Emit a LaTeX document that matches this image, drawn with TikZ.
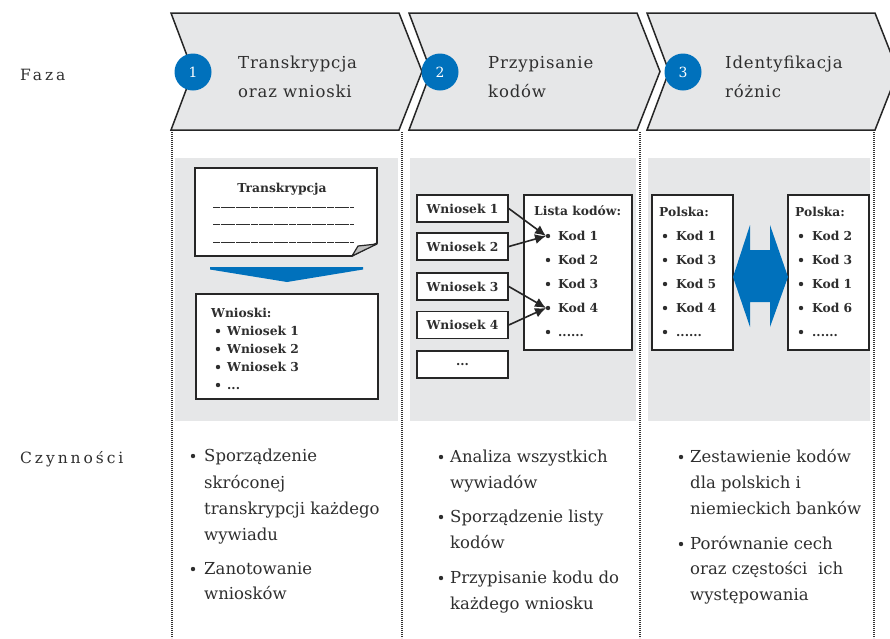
\documentclass[tikz,border=0pt]{standalone}
\usepackage{fontspec}
\setmainfont{DejaVu Serif}
\newfontfamily\hdfont[LetterSpace=5]{DejaVu Serif}
\newfontfamily\lblfont[LetterSpace=19]{DejaVu Serif}
\usetikzlibrary{arrows.meta}
\definecolor{pgrey}{HTML}{E6E7E8}
\definecolor{pblue}{HTML}{0071BC}
\definecolor{ptext}{HTML}{2E2E2E}
\newcommand\tdots{...}
\newcommand\sdots{......}
\tikzset{
 chev/.style={fill=pgrey, draw=black!85, line width=1.5pt, line join=miter},
 num/.style={circle, fill=pblue, minimum size=37pt, inner sep=0pt, text=white, font=\fontsize{14}{14}\selectfont},
 htext/.style={anchor=base west, inner sep=0pt, text=ptext, font=\hdfont\fontsize{16.5}{16.5}\selectfont},
 lbl/.style={anchor=base west, inner sep=0pt, text=ptext, font=\lblfont\fontsize{15.5}{15.5}\selectfont},
 box/.style={draw=black!85, fill=white, line width=1.6pt, inner sep=0pt},
 btext/.style={anchor=base west, inner sep=0pt, text=ptext, font=\bfseries\fontsize{12.3}{12.3}\selectfont},
 ltext/.style={anchor=base west, inner sep=0pt, text=ptext, font=\fontsize{16.5}{16.5}\selectfont},
 dotline/.style={line width=1.1pt, dash pattern=on 0.9pt off 1.1pt, draw=black!80},
 arr/.style={line width=1.6pt, draw=black!85, -{Latex[length=11pt,width=10pt]}},
 bul/.style={fill=ptext},
}
\begin{document}
\begin{tikzpicture}[x=1pt,y=-1pt]
\useasboundingbox (0,0) rectangle (890,638);
\clip (0,0) rectangle (890,638);
% grey panels
\fill[pgrey] (175,158) rectangle (398,421);
\fill[pgrey] (410,158) rectangle (636,421);
\fill[pgrey] (648,158) rectangle (870,421);
% dotted separators
\foreach \x in {172,402,640,874} \draw[dotline] (\x,132) -- (\x,638);
% chevrons
\foreach \x in {171,409,647}
  \draw[chev] (\x,13) -- (\x+228,13) -- (\x+251,71.5) -- (\x+228,130) -- (\x,130) -- (\x+22,71.5) -- cycle;
\node[num] (n1) at (193,72) {1};
\node[num] (n2) at (440,72) {2};
\node[num] (n3) at (683,72) {3};
\node[htext] (h1a) at (238,68) {Transkrypcja};
\node[htext] (h1b) at (238,97) {oraz wnioski};
\node[htext] (h2a) at (488,68) {Przypisanie};
\node[htext] (h2b) at (488,97) {kodów};
\node[htext] (h3a) at (725,68) {Identyfikacja};
\node[htext] (h3b) at (725,97) {różnic};
% row labels
\node[lbl] (faza) at (20,80) {Faza};
\node[lbl] (czyn) at (20,463) {Czynności};
% ---- panel 1
\draw[box] (195,168) -- (377,168) -- (377,243) -- (352,256) -- (195,256) -- cycle;
\draw[line width=1.2pt, draw=black!85, fill=black!25, line join=round] (352,256) -- (377,244) -- (358,246) -- cycle;
\node[btext, anchor=base] (tr) at (282,192) {Transkrypcja};
\foreach \y in {207,224,242} \draw[line width=0.8pt, draw=ptext, dash pattern=on 7pt off 0.6pt] (213,\y) -- (354,\y);
\fill[pblue] (210,267) -- (363,267) -- (363,269.5) -- (287,282) -- (210,269.5) -- cycle;
\node[box, minimum width=182pt, minimum height=105pt] (wb) at (287,346.5) {};
\node[btext] (wt) at (211,317) {Wnioski:};
\foreach \y/\t [count=\i] in {335/Wniosek 1,353/Wniosek 2,371/Wniosek 3,389/\tdots} {
  \fill[bul] (218,\y-4) circle (2.2pt);
  \node[btext] (wi\i) at (227,\y) {\t};
}
% ---- panel 2
\foreach \y/\t [count=\i] in {208.5/Wniosek 1,246.5/Wniosek 2,286.5/Wniosek 3,325/Wniosek 4,364.5/\tdots}
  \node[box, minimum width=91pt, minimum height=27pt, text=ptext, font=\bfseries\fontsize{12.3}{12.3}\selectfont] (w\i) at (462.5,\y) {\t};
\node[box, minimum width=108pt, minimum height=155pt] (lk) at (578,272.5) {};
\node[btext] (lkt) at (534,215) {Lista kodów:};
\foreach \y/\t [count=\i] in {240/Kod 1,264/Kod 2,288/Kod 3,312/Kod 4,336/\sdots} {
  \fill[bul] (548,\y-4) circle (2.2pt);
  \coordinate (kb\i) at (546,\y-4);
  \node[btext] (k\i) at (558,\y) {\t};
}
\draw[arr] (w1.east) -- (kb1);
\draw[arr] (w2.east) -- (kb1);
\draw[arr] (w3.east) -- (kb4);
\draw[arr] (w4.east) -- (kb4);
% ---- panel 3
\node[box, minimum width=81pt, minimum height=155pt] (pl) at (692.5,272.5) {};
\node[box, minimum width=81pt, minimum height=155pt] (pr) at (828.5,272.5) {};
\node[btext] (plt) at (659,216) {Polska:};
\node[btext] (prt) at (795,216) {Polska:};
\foreach \y/\t [count=\i] in {240/Kod 1,264/Kod 3,288/Kod 5,312/Kod 4,336/\sdots} {
  \fill[bul] (665,\y-4) circle (2.2pt);
  \node[btext] (pl\i) at (676,\y) {\t};
}
\foreach \y/\t [count=\i] in {240/Kod 2,264/Kod 3,288/Kod 1,312/Kod 6,336/\sdots} {
  \fill[bul] (801,\y-4) circle (2.2pt);
  \node[btext] (pr\i) at (812,\y) {\t};
}
\fill[pblue] (733,277) -- (750,225) -- (750,250) -- (770,250) -- (770,225) -- (788,277)
  -- (770,327) -- (770,302) -- (750,302) -- (750,327) -- cycle;
% ---- bottom texts
\foreach \y/\t [count=\i] in {461/Sporządzenie,488/skróconej,514/transkrypcji każdego,540/wywiadu,574/Zanotowanie,599/wniosków}
  \node[ltext] (a\i) at (204,\y) {\t};
\fill[bul] (193,456) circle (2.2pt);
\fill[bul] (193,569) circle (2.2pt);
\foreach \y/\t [count=\i] in {462/Analiza wszystkich,488/wywiadów,522/Sporządzenie listy,548/kodów,583/Przypisanie kodu do,609/każdego wniosku}
  \node[ltext] (b\i) at (450,\y) {\t};
\fill[bul] (441,457) circle (2.2pt);
\fill[bul] (441,517) circle (2.2pt);
\fill[bul] (441,578) circle (2.2pt);
\foreach \y/\t [count=\i] in {462/Zestawienie kodów,488/dla polskich i,514/niemieckich banków,549/Porównanie cech,574/oraz częstości\ \ ich,600/występowania}
  \node[ltext] (c\i) at (690,\y) {\t};
\fill[bul] (681,457) circle (2.2pt);
\fill[bul] (681,544) circle (2.2pt);
\end{tikzpicture}
\end{document}
